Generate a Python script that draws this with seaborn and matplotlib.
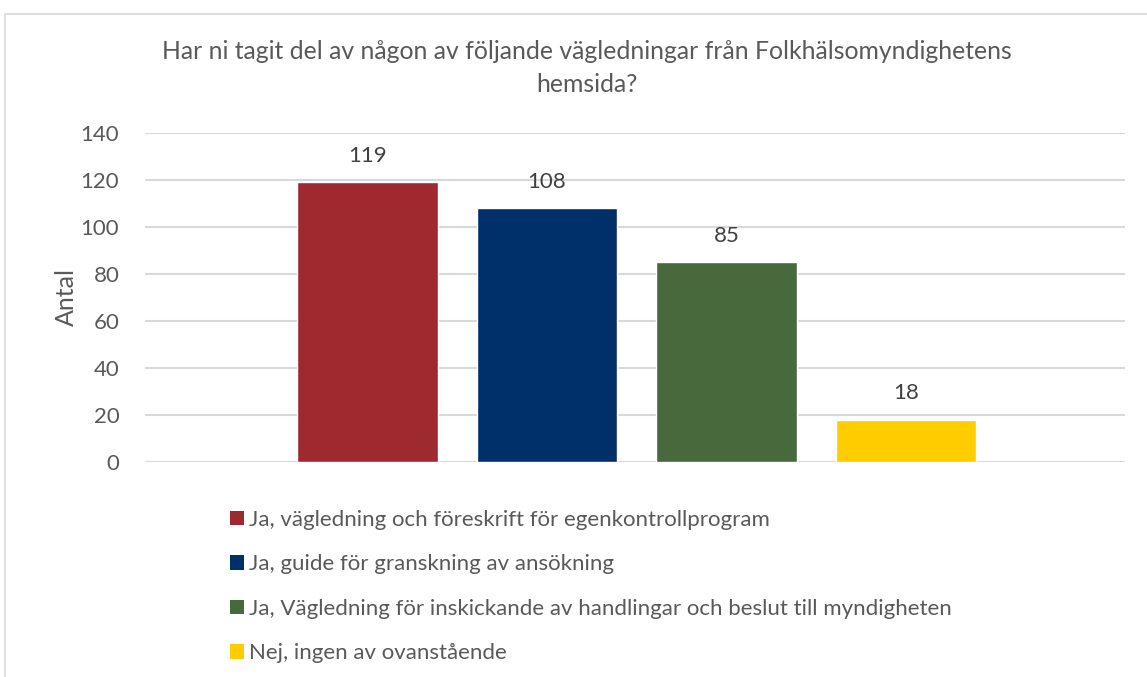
import matplotlib
matplotlib.use("Agg")
import matplotlib.pyplot as plt
from matplotlib.patches import Patch, Rectangle
import seaborn as sns
import pandas as pd

# Data
categories = [
    "Ja, vägledning och föreskrift för egenkontrollprogram",
    "Ja, guide för granskning av ansökning",
    "Ja, Vägledning för inskickande av handlingar och beslut till myndigheten",
    "Nej, ingen av ovanstående",
]
values = [119, 108, 85, 18]
colors = ["#9E2A2F", "#003069", "#466A3C", "#FFCC00"]
yticks = [0, 20, 40, 60, 80, 100, 120, 140]
title = "Har ni tagit del av någon av följande vägledningar från Folkhälsomyndighetens\nhemsida?"

sns.set_theme(style="white")
plt.rcParams['font.family'] = ['Lato', 'DejaVu Sans']

df = pd.DataFrame({"kategori": categories, "antal": values})

fig = plt.figure(figsize=(11.47, 6.77), dpi=100)
ax = fig.add_axes([145 / 1147, 1 - 462 / 677, 980 / 1147, (462 - 133) / 677])

sns.barplot(data=df, x="kategori", y="antal", hue="kategori",
            palette=colors, order=categories, hue_order=categories,
            width=0.783, dodge=False, legend=False, ax=ax, saturation=1)

ax.set_xlim(-1.24, 4.22)
ax.set_ylim(0, 140)
ax.set_yticks(yticks)
ax.set_xticks([])
ax.set_xlabel("")
ax.set_ylabel("Antal", fontsize=18, color="#595959", labelpad=2)
ax.tick_params(axis="y", length=0, labelsize=16, labelcolor="#595959", pad=18.5)
ax.grid(axis="y", color="#D9D9D9", linewidth=1.5)
ax.set_axisbelow(True)
for s in ax.spines.values():
    s.set_visible(False)

# data labels
for i, v in enumerate(values):
    ax.annotate(str(v), (i, v), xytext=(0, 12), textcoords="offset points",
                ha="center", va="bottom", fontsize=16, color="#404040")

fig.text(587 / 1147, 1 - 68 / 677, title, ha="center", va="center",
         fontsize=17.8, color="#595959", linespacing=1.5)

# legend
handles = [Patch(facecolor=c, edgecolor="none") for c in colors]
fig.legend(handles, categories, loc="upper left",
           bbox_to_anchor=(210 / 1147, 1 - 490 / 677), frameon=False,
           fontsize=16, labelcolor="#595959", handlelength=0.62,
           handleheight=0.62, handletextpad=0.25, labelspacing=1.1)

# chart frame
fig.patches.append(Rectangle((5 / 1147, -0.1), 1.2, 1 - 14 / 677 + 0.1,
                             transform=fig.transFigure, fill=False,
                             edgecolor="#D9D9D9", linewidth=1.2))

fig.savefig("out.png", dpi=100)
